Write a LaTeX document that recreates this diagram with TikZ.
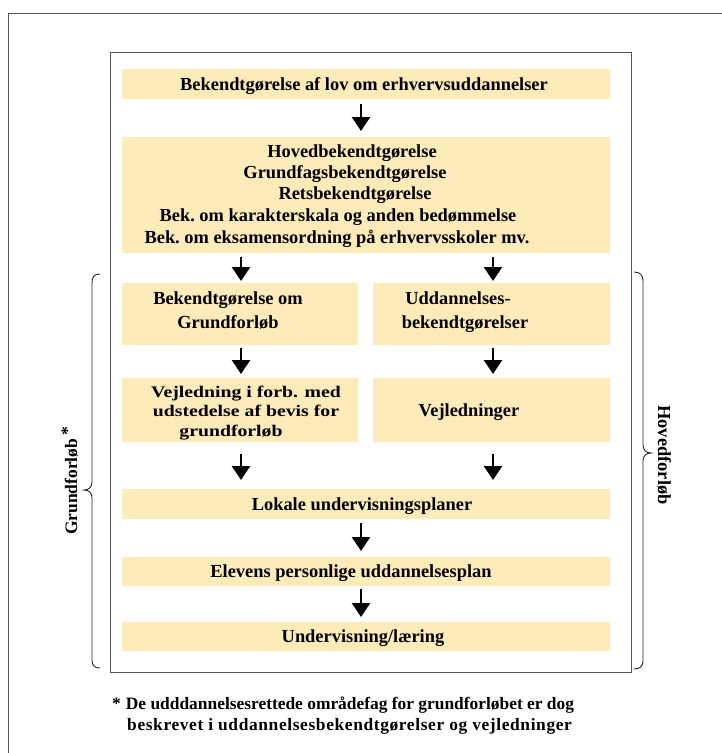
\documentclass[tikz,border=0pt]{standalone}
\usepackage{fontspec}
\setmainfont{Liberation Serif}
\newfontfamily\widefont[FakeStretch=1.22]{Liberation Serif}
\usetikzlibrary{arrows.meta}
\definecolor{boxfill}{RGB}{253,235,186}
\definecolor{framegray}{RGB}{85,85,85}
\tikzset{
  stage/.style={fill=boxfill, inner sep=0pt, draw=none},
  txt/.style={font=\bfseries\fontsize{18.4}{21.5}\selectfont, inner sep=0pt, align=center,
    text height=12pt, text depth=0pt},
  smalltxt/.style={font=\widefont\bfseries\fontsize{16.2}{20}\selectfont, inner sep=0pt,
    text height=10.5pt, text depth=0pt},
  flow/.style={-{Triangle[width=18pt,length=14pt]}, line width=2.6pt, black},
  brace/.style={line width=0.9pt, black!85},
}
\begin{document}
\begin{tikzpicture}[x=1pt,y=-1pt]
\useasboundingbox (0,0) rectangle (722,753);
% outer and inner frames
\draw[framegray, line width=1pt] (8,753) -- (8,13) -- (722,13);
\draw[framegray, line width=1pt] (110,52) rectangle (631,672);

% boxes
\node[stage, minimum width=488, minimum height=30] (law) at (366,84) {};
\node[stage, minimum width=488, minimum height=116] (main) at (366,195) {};
\node[stage, minimum width=236, minimum height=62] (gf) at (240,314) {};
\node[stage, minimum width=237, minimum height=62] (ud) at (491.5,314) {};
\node[stage, minimum width=236, minimum height=64] (vb) at (240,410) {};
\node[stage, minimum width=237, minimum height=64] (vj) at (491.5,410) {};
\node[stage, minimum width=488, minimum height=30] (lok) at (366,504) {};
\node[stage, minimum width=488, minimum height=29] (elev) at (366,571.5) {};
\node[stage, minimum width=488, minimum height=29] (und) at (366,636.5) {};

% box texts
\node[txt] (t1) at (364,84) {Bekendtgørelse af lov om erhvervsuddannelser};
\node[txt] (t2a) at (352,151) {Hovedbekendtgørelse};
\node[txt] (t2b) at (345,172) {Grundfagsbekendtgørelse};
\node[txt] (t2c) at (355,193) {Retsbekendtgørelse};
\node[txt] (t2d) at (338,215) {Bek.\ om karakterskala og anden bedømmelse};
\node[txt] (t2e) at (337,237) {Bek.\ om eksamensordning på erhvervsskoler mv.};
\node[txt] (t3a) at (228,298) {Bekendtgørelse om};
\node[txt] (t3b) at (228,322) {Grundforløb};
\node[txt] (t4a) at (458,298) {Uddannelses-};
\node[txt] (t4b) at (465,322) {bekendtgørelser};
\node[smalltxt] (t5a) at (246,392) {Vejledning i forb. med};
\node[smalltxt] (t5b) at (246,411) {udstedelse af bevis for};
\node[smalltxt] (t5c) at (231,431) {grundforløb};
\node[txt] (t6) at (469,410) {Vejledninger};
\node[txt] (t7) at (362,504) {Lokale undervisningsplaner};
\node[txt] (t8) at (351,571) {Elevens personlige uddannelsesplan};
\node[txt] (t9) at (363,636) {Undervisning/læring};

% arrows
\draw[flow] (361,104) -- (361,131);
\draw[flow] (241,257) -- (241,281);
\draw[flow] (493,257) -- (493,281);
\draw[flow] (241,348) -- (241,374);
\draw[flow] (493,348) -- (493,374);
\draw[flow] (241,454) -- (241,480);
\draw[flow] (493,454) -- (493,480);
\draw[flow] (361,523) -- (361,551);
\draw[flow] (361,589) -- (361,617);

% braces
\draw[brace] (100,274) .. controls (94,274) and (92,277) .. (92,283) -- (92,482)
  .. controls (92,487) and (89,490) .. (84,490)
  .. controls (89,490) and (92,493) .. (92,498) -- (92,660)
  .. controls (92,665) and (94,668) .. (100,668);
\draw[brace] (634,272) .. controls (640,272) and (643,275) .. (643,281) -- (643,445)
  .. controls (643,450) and (646,453) .. (651,453)
  .. controls (646,453) and (643,456) .. (643,461) -- (643,661)
  .. controls (643,666) and (640,669) .. (634,669);

\node[rotate=90, txt, font=\bfseries\fontsize{17.5}{21}\selectfont] (gl) at (71,481) {Grundforløb\,\raisebox{4pt}{*}};
\node[rotate=-90, txt] (hl) at (664,455) {Hovedforløb};

% footnote
\node[anchor=west, txt, font=\bfseries\fontsize{17.4}{21}\selectfont] (fn1) at (112,703) {*\hspace{5pt}De udddannelsesrettede områdefag for grundforløbet er dog};
\node[anchor=west, txt, font=\bfseries\fontsize{17.4}{21}\selectfont\addfontfeature{LetterSpace=3.6}] (fn2) at (127,724) {beskrevet i uddannelsesbekendtgørelser og vejledninger};
\end{tikzpicture}
\end{document}
